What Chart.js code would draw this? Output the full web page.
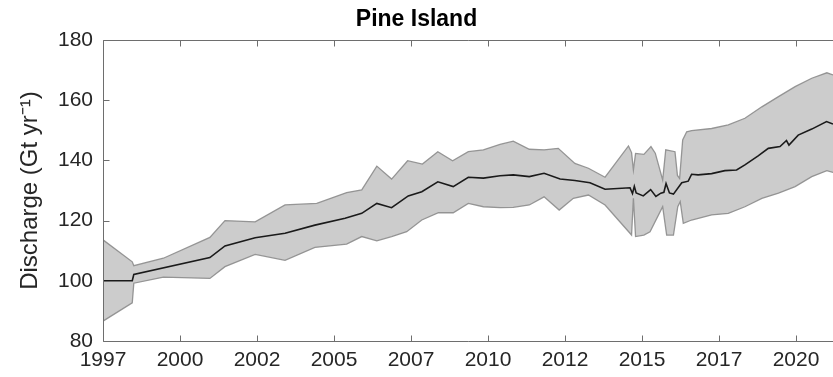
<!DOCTYPE html>
<html><head><meta charset="utf-8">
<script src="https://cdn.jsdelivr.net/npm/chart.js@4.4.0/dist/chart.umd.min.js"></script>
<style>html,body{margin:0;padding:0;background:#fff}#wrap{width:833px;height:377px}</style>
</head><body><div id="wrap"><canvas id="c" width="833" height="377"></canvas></div>
<script>
const titleText = 'Pine Island';
const yAxisLabel = 'Discharge (Gt yr\u207B\u00B9)';
const xTickValues = [1997, 1999.5, 2002, 2004.5, 2007, 2009.5, 2012, 2014.5, 2017, 2019.5];
const xTickLabels = ['1997','2000','2002','2005','2007','2010','2012','2015','2017','2020'];
const yTickValues = [80, 100, 120, 140, 160, 180];

const meanYears = [1997.00,1997.95,1998.00,2000.47,2000.96,2001.94,2002.91,2003.88,2004.86,2005.40,2005.89,2006.37,2006.91,2007.35,2007.87,2008.37,2008.86,2009.35,2009.89,2010.32,2010.84,2011.32,2011.84,2012.32,2012.81,2013.30,2014.11,2014.19,2014.25,2014.31,2014.54,2014.78,2014.95,2015.11,2015.21,2015.28,2015.39,2015.52,2015.79,2016.00,2016.11,2016.32,2016.76,2017.19,2017.57,2017.84,2018.27,2018.60,2018.98,2019.19,2019.27,2019.57,2020.01,2020.49,2020.70];
const meanValues = [100.0,100.0,102.1,107.7,111.6,114.3,115.8,118.5,120.8,122.4,125.7,124.3,128.2,129.6,132.9,131.3,134.4,134.1,134.9,135.2,134.6,135.7,133.8,133.3,132.6,130.4,130.9,129.0,131.4,129.2,128.2,130.3,128.0,129.1,129.4,132.3,129.2,128.8,132.6,133.1,135.4,135.2,135.6,136.6,136.8,138.5,141.5,144.0,144.6,146.6,145.1,148.4,150.4,152.9,152.1];

const upperYears = [1997.00,1997.95,1998.00,1998.96,2000.47,2000.96,2001.94,2002.91,2003.94,2004.91,2005.40,2005.89,2006.37,2006.89,2007.37,2007.87,2008.35,2008.86,2009.35,2009.89,2010.32,2010.84,2011.32,2011.78,2012.32,2012.76,2013.30,2014.06,2014.16,2014.22,2014.29,2014.56,2014.79,2014.93,2015.17,2015.27,2015.57,2015.65,2015.72,2015.82,2015.95,2016.11,2016.76,2017.30,2017.84,2018.39,2018.93,2019.47,2020.01,2020.50,2020.70];
const upperValues = [113.6,106.3,105.0,107.5,114.4,120.0,119.6,125.2,125.7,129.3,130.2,138.1,133.8,139.9,138.8,142.9,139.9,142.9,143.5,145.3,146.4,143.7,143.5,144.0,139.0,137.4,134.4,144.8,142.6,136.8,142.3,142.0,144.6,142.4,133.5,143.5,142.9,135.0,134.0,146.8,149.5,149.9,150.6,151.8,154.0,157.8,161.2,164.5,167.3,169.1,168.4];

const lowerYears = [1997.00,1997.95,1998.00,1998.96,2000.47,2000.96,2001.94,2002.91,2003.88,2004.91,2005.40,2005.89,2006.37,2006.86,2007.35,2007.89,2008.37,2008.86,2009.35,2009.89,2010.32,2010.84,2011.32,2011.81,2012.27,2012.76,2013.30,2014.16,2014.22,2014.29,2014.56,2014.76,2015.17,2015.30,2015.52,2015.66,2015.74,2015.84,2016.11,2016.76,2017.30,2017.84,2018.39,2018.93,2019.47,2020.01,2020.50,2020.70];
const lowerValues = [86.6,92.7,99.2,101.2,100.8,104.7,108.8,106.8,111.1,112.2,114.7,113.3,114.7,116.3,120.2,122.6,122.6,125.7,124.6,124.3,124.4,125.2,127.9,123.5,127.4,128.5,125.2,115.2,127.4,114.7,115.2,116.3,124.6,115.2,115.2,124.6,126.3,119.1,120.2,121.9,122.4,124.6,127.4,129.1,131.3,134.6,136.6,136.0];

const toPts = (xs, ys) => xs.map((x, i) => ({x: x, y: ys[i]}));

const frameTicks = {
  id: 'frameTicks',
  afterDraw(chart) {
    const {ctx, chartArea: a, scales: {x, y}} = chart;
    ctx.save();
    ctx.strokeStyle = '#6e6e6e';
    ctx.lineWidth = 1;
    const L = Math.round(a.left) + 0.5, T = Math.round(a.top) + 0.5, B = Math.round(a.bottom) + 0.5, R = a.right + 1;
    ctx.beginPath();
    ctx.moveTo(R, T); ctx.lineTo(L, T); ctx.lineTo(L, B); ctx.lineTo(R, B);
    xTickValues.forEach(v => {
      const px = Math.round(x.getPixelForValue(v)) + 0.5;
      ctx.moveTo(px, B); ctx.lineTo(px, B - 6);
      ctx.moveTo(px, T); ctx.lineTo(px, T + 6);
    });
    yTickValues.forEach(v => {
      const py = Math.round(y.getPixelForValue(v)) + 0.5;
      ctx.moveTo(L, py); ctx.lineTo(L + 6, py);
    });
    ctx.stroke();
    ctx.restore();
  }
};

new Chart(document.getElementById('c'), {
  type: 'line',
  data: {
    datasets: [
      {label: 'Mean', data: toPts(meanYears, meanValues), borderColor: '#1a1a1a', borderWidth: 1.6, pointRadius: 0, fill: false, tension: 0},
      {label: 'Upper', data: toPts(upperYears, upperValues), borderColor: 'rgba(140,140,140,0.9)', borderWidth: 1.3, pointRadius: 0, fill: false, tension: 0},
      {label: 'Lower', data: toPts(lowerYears, lowerValues), borderColor: 'rgba(140,140,140,0.9)', borderWidth: 1.3, pointRadius: 0, fill: '-1', backgroundColor: '#cccccc', tension: 0}
    ]
  },
  options: {
    responsive: false,
    animation: false,
    layout: {padding: 0},
    plugins: {
      legend: {display: false},
      tooltip: {enabled: false},
      title: {display: true, text: titleText, color: '#000', font: {family: 'Liberation Sans', size: 23, weight: 'bold'}, padding: {top: 6, bottom: 6.4}}
    },
    scales: {
      x: {
        type: 'linear', min: 1997, max: 2020.70,
        grid: {display: false, drawTicks: false},
        border: {display: false},
        afterBuildTicks: s => { s.ticks = xTickValues.map(v => ({value: v})); },
        afterFit: s => { s.height = 36; s.paddingLeft = 0; s.paddingRight = 0; },
        ticks: {
          autoSkip: false, maxRotation: 0, padding: 7, color: '#262626',
          font: {family: 'Liberation Sans', size: 21},
          callback: (v) => { const i = xTickValues.indexOf(v); return i >= 0 ? xTickLabels[i] : ''; }
        }
      },
      y: {
        type: 'linear', min: 80, max: 180,
        grid: {display: false, drawTicks: false},
        border: {display: false},
        afterBuildTicks: s => { s.ticks = yTickValues.map(v => ({value: v})); },
        afterFit: s => { s.width = 103; },
        ticks: {padding: 10, color: '#262626', font: {family: 'Liberation Sans', size: 21}},
        title: {display: true, text: yAxisLabel, color: '#262626', font: {family: 'Liberation Sans', size: 24}, padding: {top: 16, bottom: 0}}
      }
    }
  },
  plugins: [frameTicks]
});
</script>
</body></html>
